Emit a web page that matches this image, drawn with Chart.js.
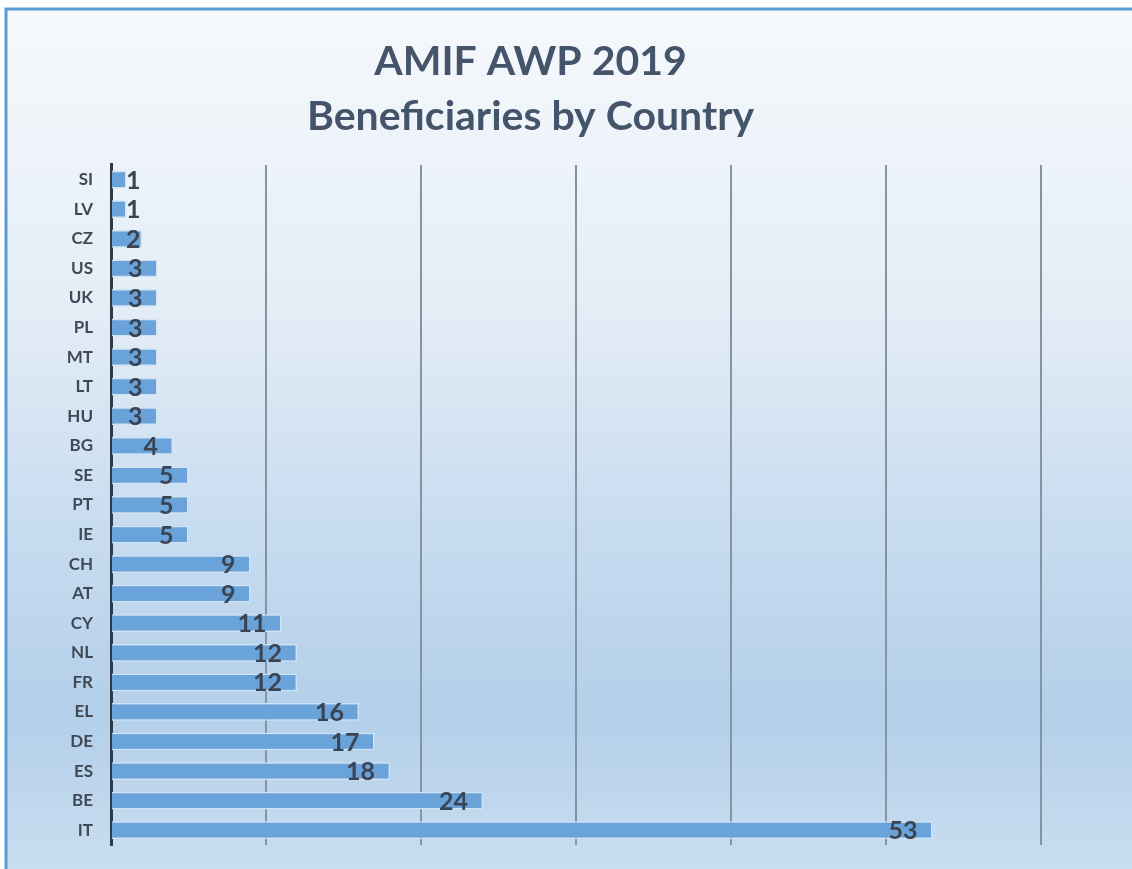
<!DOCTYPE html>
<html>
<head>
<meta charset="utf-8">
<script src="https://cdn.jsdelivr.net/npm/chart.js@4.4.0/dist/chart.umd.min.js"></script>
<style>
  html, body { margin: 0; padding: 0; background: #ffffff; }
  #wrap { width: 1132px; height: 869px; position: relative; }
</style>
</head>
<body>
<div id="wrap"><canvas id="chart"></canvas></div>
<script>
const countries = ['SI', 'LV', 'CZ', 'US', 'UK', 'PL', 'MT', 'LT', 'HU', 'BG', 'SE', 'PT', 'IE',
                   'CH', 'AT', 'CY', 'NL', 'FR', 'EL', 'DE', 'ES', 'BE', 'IT'];
const beneficiaries = [1, 1, 2, 3, 3, 3, 3, 3, 3, 4, 5, 5, 5, 9, 9, 11, 12, 12, 16, 17, 18, 24, 53];
const titleLines = ['AMIF AWP 2019', 'Beneficiaries by Country'];

// background gradient + frame
const backdrop = {
    id: 'backdrop',
    beforeDraw(chart) {
        const ctx = chart.ctx;
        const w = chart.width, h = chart.height;
        ctx.save();
        const g = ctx.createLinearGradient(0, 8, 0, h);
        g.addColorStop(0, '#f6f9fc');
        g.addColorStop(0.35, '#e4edf6');
        g.addColorStop(0.6, '#c8dcf0');
        g.addColorStop(0.82, '#b3cfea');
        g.addColorStop(1, '#c9ddf0');
        ctx.fillStyle = g;
        ctx.fillRect(5, 8, w - 5, h - 8);
        ctx.strokeStyle = '#5b9bd5';
        ctx.lineWidth = 3;
        ctx.beginPath();
        ctx.moveTo(6, h);
        ctx.lineTo(6, 9);
        ctx.lineTo(w, 9);
        ctx.stroke();
        ctx.restore();
    }
};

// value labels at the bar ends
const valueLabels = {
    id: 'valueLabels',
    afterDatasetsDraw(chart) {
        const ctx = chart.ctx;
        const x0 = chart.scales.x.getPixelForValue(0);
        ctx.save();
        ctx.font = 'bold 25px Lato';
        ctx.fillStyle = '#3a4453';
        ctx.textAlign = 'right';
        ctx.textBaseline = 'middle';
        chart.getDatasetMeta(0).data.forEach((bar, i) => {
            const txt = String(beneficiaries[i]);
            const tw = ctx.measureText(txt).width;
            const right = Math.max(bar.x - 15, x0 + 15 + tw);
            ctx.fillText(txt, right, bar.y + 1);
        });
        ctx.restore();
    }
};

new Chart(document.getElementById('chart'), {
    type: 'bar',
    data: {
        labels: countries,
        datasets: [{
            data: beneficiaries,
            backgroundColor: '#6aa3da',
            borderColor: '#cfe3f5',
            borderWidth: 1.5,
            barPercentage: 0.6,
            categoryPercentage: 1.0
        }]
    },
    options: {
        indexAxis: 'y',
        responsive: true,
        maintainAspectRatio: false,
        animation: false,
        layout: { padding: { top: 26, right: 91, bottom: 24, left: 20 } },
        plugins: {
            legend: { display: false },
            tooltip: { enabled: false },
            title: {
                display: true,
                text: titleLines,
                color: '#44546a',
                font: { family: 'Lato', size: 41, weight: 'bold', lineHeight: 1.34 },
                padding: { top: 8, bottom: 21 }
            }
        },
        scales: {
            x: {
                min: 0,
                max: 60,
                z: 1,
                ticks: { display: false, stepSize: 10 },
                grid: {
                    color: ctx => ctx.tick && ctx.tick.value === 0 ? 'rgba(0,0,0,0)' : '#8593a3',
                    lineWidth: 2,
                    drawTicks: false
                },
                border: { display: false }
            },
            y: {
                afterFit(scale) {
                    scale.width = 91;
                    scale.paddingTop = 0;
                    scale.paddingBottom = 0;
                },
                ticks: {
                    color: '#404a57',
                    font: { family: 'Lato', size: 17, weight: 'bold' },
                    padding: 18
                },
                grid: { display: false, drawTicks: false },
                border: { display: true, color: '#2f3a48', width: 3 }
            }
        }
    },
    plugins: [backdrop, valueLabels]
});
</script>
</body>
</html>
